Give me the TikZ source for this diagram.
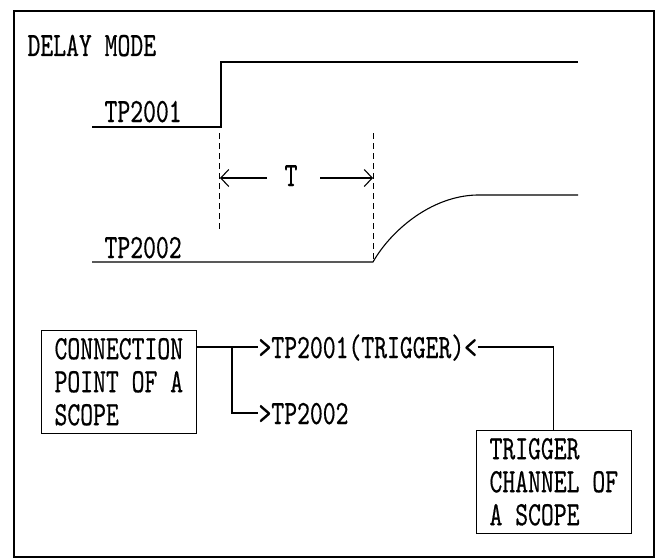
\documentclass[tikz,border=0pt]{standalone}
\usepackage{fontspec}
\usepackage{graphicx}
\usetikzlibrary{arrows.meta}
\newfontfamily\monofam{lmmono10-regular}[Extension=.otf, FakeBold=0.6]
\newcommand\dfont{\monofam\fontsize{34}{33}\selectfont}
\newcommand\ds[1]{\scalebox{0.72}[1]{#1}}
\begin{document}
\begin{tikzpicture}[x=1pt,y=-1pt, line width=1.1pt,
  txt/.style={inner sep=0pt, font=\dfont, anchor=base west},
  sig/.style={inner sep=0pt, font=\dfont, anchor=west, text height=22pt, text depth=0pt},
  box/.style={draw, align=left, anchor=north west, inner xsep=13pt, inner ysep=7.5pt, font=\dfont},
  guide/.style={dash pattern=on 6pt off 4pt, line width=1pt},
  dim/.style={-{Straight Barb[length=8pt,width=17pt]}}]
\useasboundingbox (0,0) rectangle (658,559);
\draw (14,11) rectangle (654,557);
\node[txt] (title) at (27,56) {\ds{DELAY MODE}};
\node[txt] (l1) at (104,122) {\ds{TP2001}};
\node[txt] (l2) at (104,258) {\ds{TP2002}};
\draw (92,127) -- (221,127) -- (221,62) -- (578,62);
\draw (92,262) -- (373,262) .. controls (390,232) and (430,196) .. (477,195) -- (578,195);
\draw[guide] (219,133) -- (219,229);
\draw[guide] (373,133) -- (373,262);
\node[txt, anchor=base] (T) at (291,186) {\ds{T}};
\coordinate (tl) at (220,178);
\coordinate (tr) at (373,178);
\draw[dim] (267,178) -- (tl);
\draw[dim] (320,178) -- (tr);
\node[box] (cbox) at (41,330) {\ds{CONNECTION}\\\ds{POINT OF A}\\\ds{SCOPE}};
\node[box] (tbox) at (476,430) {\ds{TRIGGER}\\\ds{CHANNEL OF}\\\ds{A SCOPE}};
\node[sig] (s1) at (258,347) {\ds{>TP2001(TRIGGER)<}};
\node[sig] (s2) at (258,413) {\ds{>TP2002}};
\coordinate (j) at (232,347);
\draw (cbox.east |- j) -- (s1.west);
\draw (j) |- (s2.west);
\draw (s1.east) -| (tbox.north);
\end{tikzpicture}
\end{document}
